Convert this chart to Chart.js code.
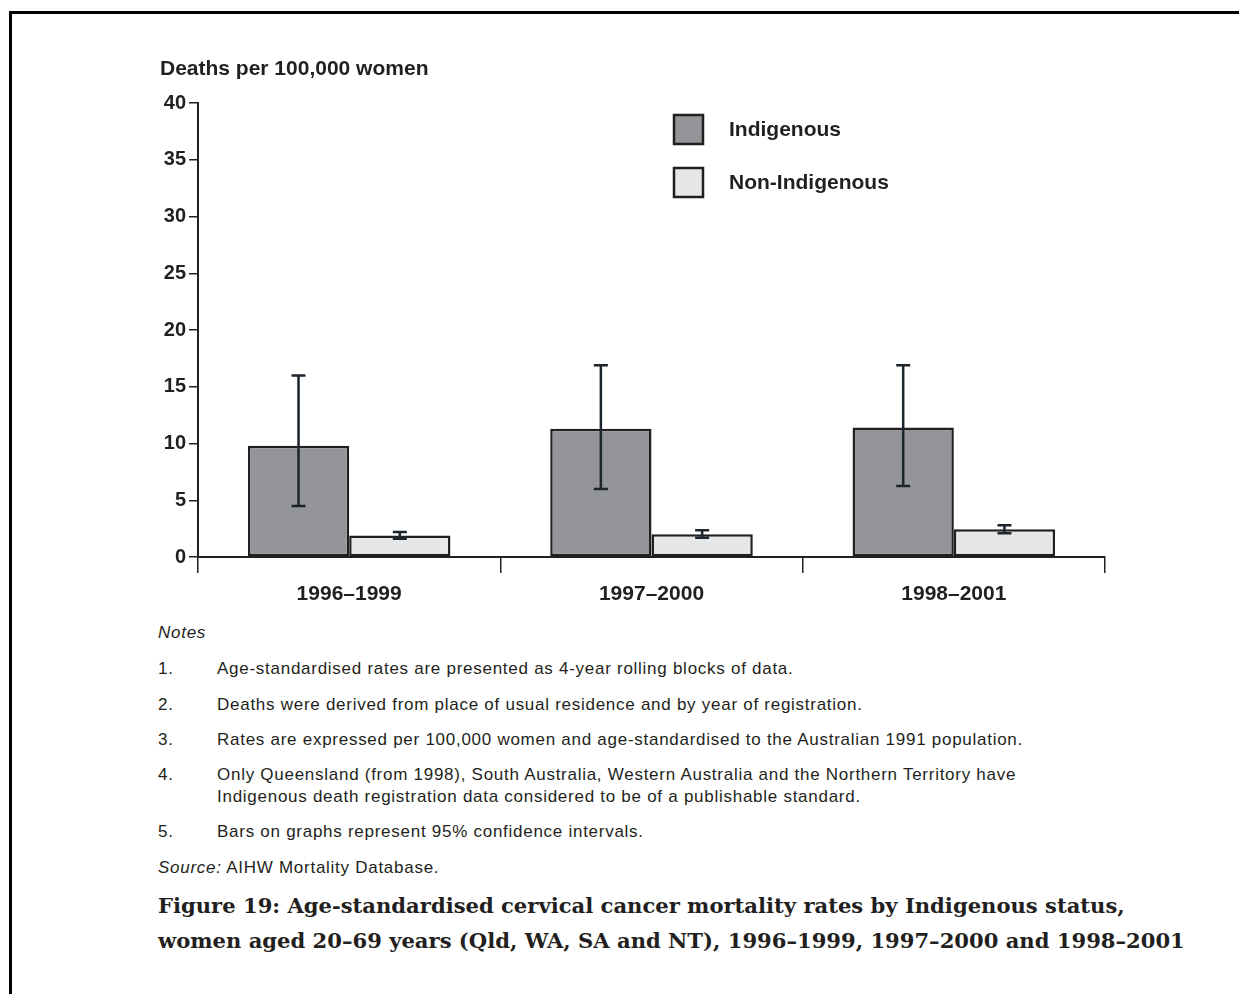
<!DOCTYPE html>
<html>
<head>
<meta charset="utf-8">
<script src="https://cdn.jsdelivr.net/npm/chart.js@4/dist/chart.umd.min.js"></script>
<style>
  body { margin: 0; background: #fff; }
  #page { position: relative; width: 1239px; height: 994px; overflow: hidden; font-family: Arial, "Liberation Sans", sans-serif; color: #231f20; }
  #frame { position: absolute; left: 9px; top: 11px; width: 1240px; height: 1000px; border-top: 3px solid #000; border-left: 3px solid #000; }
  #wrap { position: absolute; left: 0; top: 0; width: 1239px; height: 620px; }
  .t { position: absolute; white-space: nowrap; line-height: 1; }
  .ytitle { left: 160px; top: 57px; font-weight: bold; font-size: 21px; }
  .note { font-size: 17px; letter-spacing: 0.73px; }
  .num { left: 158px; }
  .txt { left: 217px; }
  .cap { left: 158px; font-family: "DejaVu Serif", serif; font-weight: bold; font-size: 21.1px; }
</style>
</head>
<body>
<div id="page">
  <div id="frame"></div>
  <div id="wrap"><canvas id="rateChart" width="1239" height="620"></canvas></div>
  <div class="t ytitle">Deaths per 100,000 women</div>

  <div class="t note" style="left:158px; top:624px; font-style:italic;">Notes</div>
  <div class="t note num" style="top:660px;">1.</div>
  <div class="t note txt" style="top:660px;">Age-standardised rates are presented as 4-year rolling blocks of data.</div>
  <div class="t note num" style="top:696px;">2.</div>
  <div class="t note txt" style="top:696px;">Deaths were derived from place of usual residence and by year of registration.</div>
  <div class="t note num" style="top:731px;">3.</div>
  <div class="t note txt" style="top:731px;">Rates are expressed per 100,000 women and age-standardised to the Australian 1991 population.</div>
  <div class="t note num" style="top:766px;">4.</div>
  <div class="t note txt" style="top:766px;">Only Queensland (from 1998), South Australia, Western Australia and the Northern Territory have</div>
  <div class="t note txt" style="top:788px;">Indigenous death registration data considered to be of a publishable standard.</div>
  <div class="t note num" style="top:823px;">5.</div>
  <div class="t note txt" style="top:823px;">Bars on graphs represent 95% confidence intervals.</div>
  <div class="t note" style="left:158px; top:859px;"><i>Source:</i> AIHW Mortality Database.</div>

  <div class="t cap" style="top:895px;">Figure 19: Age-standardised cervical cancer mortality rates by Indigenous status,</div>
  <div class="t cap" style="top:930px;">women aged 20–69 years (Qld, WA, SA and NT), 1996–1999, 1997–2000 and 1998–2001</div>
</div>

<script>
const periods = ["1996–1999", "1997–2000", "1998–2001"];

const indigenous = [9.8, 11.3, 11.4];
const indigenousLow = [4.5, 6.0, 6.25];
const indigenousHigh = [16.0, 16.9, 16.9];

const nonIndigenous = [1.9, 2.0, 2.45];
const nonIndigenousLow = [1.6, 1.7, 2.1];
const nonIndigenousHigh = [2.2, 2.35, 2.8];

const yTicks = [0, 5, 10, 15, 20, 25, 30, 35, 40];

const ink = "#231f20";

// 95% confidence interval whiskers
const errorBars = {
  id: "errorBars",
  afterDatasetsDraw(chart) {
    const ctx = chart.ctx;
    const y = chart.scales.y;
    ctx.save();
    ctx.strokeStyle = "#1c252b";
    ctx.lineWidth = 2.5;
    chart.data.datasets.forEach((ds, i) => {
      const meta = chart.getDatasetMeta(i);
      meta.data.forEach((bar, j) => {
        const top = y.getPixelForValue(ds.high[j]);
        const bot = y.getPixelForValue(ds.low[j]);
        const cx = bar.x;
        ctx.beginPath();
        ctx.moveTo(cx, top); ctx.lineTo(cx, bot);
        ctx.moveTo(cx - 7, top); ctx.lineTo(cx + 7, top);
        ctx.moveTo(cx - 7, bot); ctx.lineTo(cx + 7, bot);
        ctx.stroke();
      });
    });
    ctx.restore();
  }
};

// legend boxes inside the plot, stacked vertically
const boxLegend = {
  id: "boxLegend",
  afterDraw(chart) {
    const ctx = chart.ctx;
    ctx.save();
    chart.data.datasets.forEach((ds, i) => {
      const bx = 674, by = 115 + i * 53;
      ctx.fillStyle = ds.backgroundColor;
      ctx.fillRect(bx, by, 29, 29);
      ctx.strokeStyle = ink;
      ctx.lineWidth = 2.5;
      ctx.strokeRect(bx, by, 29, 29);
      ctx.fillStyle = ink;
      ctx.font = "bold 21px Arial, 'Liberation Sans', sans-serif";
      ctx.textBaseline = "middle";
      ctx.fillText(ds.label, 729, by + 15);
    });
    ctx.restore();
  }
};

new Chart(document.getElementById("rateChart"), {
  type: "bar",
  data: {
    labels: periods,
    datasets: [
      {
        label: "Indigenous",
        data: indigenous,
        low: indigenousLow,
        high: indigenousHigh,
        backgroundColor: "#939598",
        borderColor: ink,
        borderWidth: 2.5,
        borderSkipped: false
      },
      {
        label: "Non-Indigenous",
        data: nonIndigenous,
        low: nonIndigenousLow,
        high: nonIndigenousHigh,
        backgroundColor: "#e6e7e8",
        borderColor: ink,
        borderWidth: 2.5,
        borderSkipped: false
      }
    ]
  },
  options: {
    responsive: false,
    animation: false,
    categoryPercentage: 0.67,
    barPercentage: 1.0,
    layout: { padding: { top: 103, right: 134, bottom: 0, left: 0 } },
    plugins: {
      legend: { display: false },
      tooltip: { enabled: false }
    },
    scales: {
      x: {
        grid: { offset: true, drawOnChartArea: false, tickLength: 16, color: ink, lineWidth: 1.5 },
        border: { color: ink, width: 2 },
        ticks: { color: ink, padding: 9, font: { family: "Arial, 'Liberation Sans', sans-serif", size: 21, weight: "bold" } },
        afterFit(scale) { scale.height = 63; }
      },
      y: {
        min: 0,
        max: 40,
        afterBuildTicks(scale) { scale.ticks = yTicks.map(v => ({ value: v })); },
        grid: { drawOnChartArea: false, tickLength: 9, color: ink, lineWidth: 1.5 },
        border: { color: ink, width: 2 },
        ticks: { color: ink, padding: 3, font: { family: "Arial, 'Liberation Sans', sans-serif", size: 20, weight: "bold" } },
        afterFit(scale) { scale.width = 198; }
      }
    }
  },
  plugins: [errorBars, boxLegend]
});
</script>
</body>
</html>
